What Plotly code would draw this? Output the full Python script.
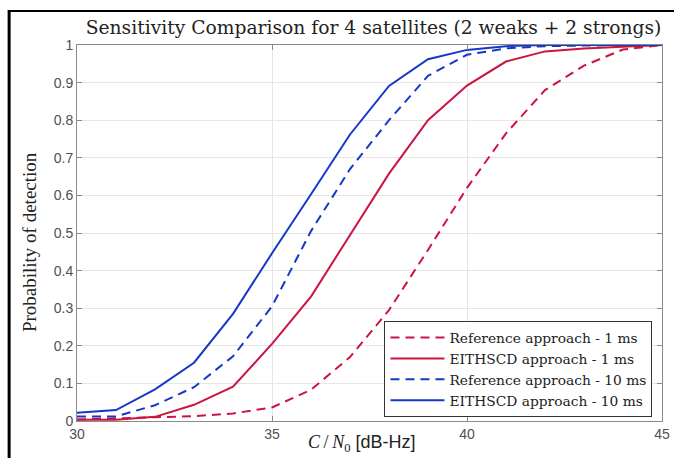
import plotly.graph_objects as go

cn0 = [30, 31, 32, 33, 34, 35, 36, 37, 38, 39, 40, 41, 42, 43, 44, 45]

ref_1ms = [0.004, 0.006, 0.010, 0.013, 0.020, 0.036, 0.083, 0.170, 0.295, 0.455, 0.620, 0.765, 0.880, 0.945, 0.988, 1.000]
eith_1ms = [0.003, 0.003, 0.011, 0.043, 0.091, 0.205, 0.331, 0.495, 0.658, 0.800, 0.892, 0.956, 0.983, 0.991, 0.996, 1.000]
ref_10ms = [0.012, 0.012, 0.042, 0.090, 0.172, 0.305, 0.505, 0.670, 0.800, 0.918, 0.974, 0.991, 0.997, 0.999, 1.000, 1.000]
eith_10ms = [0.022, 0.029, 0.084, 0.155, 0.285, 0.446, 0.603, 0.762, 0.891, 0.962, 0.987, 0.997, 1.000, 1.000, 1.000, 1.000]

x_ticks = [30, 35, 40, 45]
y_ticks = [0, 0.1, 0.2, 0.3, 0.4, 0.5, 0.6, 0.7, 0.8, 0.9, 1]
y_tick_labels = ["0", "0.1", "0.2", "0.3", "0.4", "0.5", "0.6", "0.7", "0.8", "0.9", "1"]

series_names = ["Reference approach - 1 ms", "EITHSCD approach - 1 ms",
                "Reference approach - 10 ms", "EITHSCD approach - 10 ms"]

RED = "#CC1440"
BLUE = "#1638C8"
DASH = "9px,6px"

W, H = 682, 458
K = W / 674.0  # horizontal correction factor
PL, PR, PT, PB = 76, 662, 45, 421  # plot area in target-image pixels


def px(xp):
    return (xp - PL) / (PR - PL)


def py(yp):
    return (PB - yp) / (PB - PT)


fig = go.Figure()
for name, y, color, dash in [
    (series_names[0], ref_1ms, RED, DASH),
    (series_names[1], eith_1ms, RED, "solid"),
    (series_names[2], ref_10ms, BLUE, DASH),
    (series_names[3], eith_10ms, BLUE, "solid"),
]:
    fig.add_trace(go.Scatter(x=cn0, y=y, mode="lines", name=name,
                             line=dict(color=color, width=2, dash=dash)))

axis_common = dict(
    showline=True, linecolor="#8a8a8a", linewidth=1, mirror="ticks",
    ticks="inside", ticklen=5, tickcolor="#8a8a8a",
    showgrid=True, gridcolor="#e6e6e6", gridwidth=1,
    zeroline=False,
    tickfont=dict(family="Liberation Sans, Arial", size=14, color="#505050"),
)

fig.update_xaxes(range=[30, 45], tickvals=x_ticks, **axis_common)
fig.update_yaxes(range=[0, 1], tickvals=y_ticks, ticktext=y_tick_labels, **axis_common)

fig.update_layout(
    width=W, height=H,
    margin=dict(l=round(PL * K), r=W - round(PR * K), t=PT, b=H - PB),
    paper_bgcolor="white", plot_bgcolor="white",
    title=dict(text="Sensitivity Comparison for 4 satellites (2 weaks + 2 strongs)",
               font=dict(family="DejaVu Serif", size=18.7, color="#222222"),
               xref="paper", x=px(373), xanchor="center",
               yref="container", y=1 - 27 / H, yanchor="middle"),
    legend=dict(x=px(384), y=py(417), xanchor="left", yanchor="bottom",
                bgcolor="white", bordercolor="#333333", borderwidth=1,
                font=dict(family="DejaVu Serif", size=13.8, color="#222222"),
                tracegroupgap=0, itemwidth=54),
    showlegend=True,
    annotations=[
        dict(text="Probability of detection", textangle=-90,
             xref="paper", yref="paper", x=px(28), y=py(242),
             xanchor="center", yanchor="middle", showarrow=False,
             font=dict(family="Liberation Serif", size=19, color="#222222")),
        dict(text='<span style="font-family:Liberation Serif"><i>C</i>\u2009/\u2009<i>N</i><sub>0</sub></span> [dB-Hz]',
             xref="paper", yref="paper", x=px(361), y=py(443),
             xanchor="center", yanchor="middle", showarrow=False,
             font=dict(family="Liberation Sans, Arial", size=18, color="#222222")),
    ],
    shapes=[
        dict(type="line", xref="paper", yref="paper",
             x0=px(8), x1=px(8), y0=py(10), y1=py(470),
             line=dict(color="black", width=3)),
        dict(type="line", xref="paper", yref="paper",
             x0=px(7), x1=px(690), y0=py(11), y1=py(11),
             line=dict(color="black", width=2)),
    ],
)

fig.write_html(
    "out.html",
    config={"displayModeBar": False},
    post_script="document.body.style.margin='0px';document.body.style.overflow='hidden';",
)
